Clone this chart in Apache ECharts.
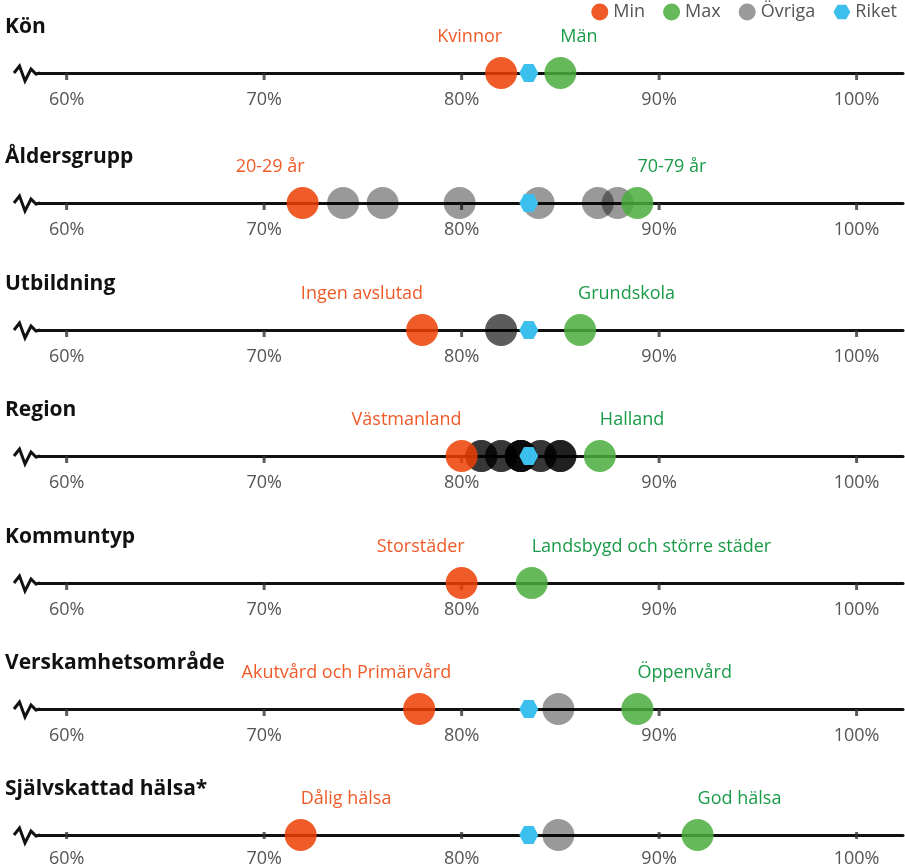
<!DOCTYPE html>
<html>
<head>
<meta charset="utf-8">
<script src="https://cdn.jsdelivr.net/npm/echarts@6/dist/echarts.min.js"></script>
<style>
html,body{margin:0;padding:0;background:#fff;}
#chart{width:905px;height:868px;}
</style>
</head>
<body>
<div id="chart"></div>
<script>
// ---- data ----
const categories = ['Kön','Åldersgrupp','Utbildning','Region','Kommuntyp','Verskamhetsområde','Självskattad hälsa*'];
const minNames = ['Kvinnor','20-29 år','Ingen avslutad','Västmanland','Storstäder','Akutvård och Primärvård','Dålig hälsa'];
const minValues = [82.0, 71.95, 78.0, 80.0, 80.0, 77.85, 71.85];
const maxNames = ['Män','70-79 år','Grundskola','Halland','Landsbygd och större städer','Öppenvård','God hälsa'];
const maxValues = [85.0, 88.9, 86.0, 87.0, 83.55, 88.9, 91.95];
const otherValues = [
  [],
  [74.0, 76.0, 79.9, 83.9, 86.9, 87.9],
  [82.0, 82.0],
  [81,81,81,82,82,82,83,83,83,83,83,83,84,84,84,85,85,85,85],
  [],
  [84.9],
  [84.9]
];
const riketValues = [83.4, 83.4, 83.4, 83.4, null, 83.4, 83.4];
const tickValues = [60, 70, 80, 90, 100];
const legendNames = ['Min','Max','Övriga','Riket'];

// ---- layout / style ----
const lineY = [73, 203, 330, 456, 583, 709, 835];
const FONT = 'Open Sans';
const ORANGE = '#ed3f04', ORANGE_TXT = '#f05a28';
const GREEN = '#4bad3d', GREEN_TXT = '#1a9b48';
const BLUE = '#3bbfec';
const HEX = 'path://M0,50 L25,6.7 L75,6.7 L100,50 L75,93.3 L25,93.3 Z';
const minLabelAlign = ['right','right','right','right','right','right','left'];
const minLabelDx = [1, 2, 1, 0, 3, 32, 0];
const maxLabelDx = [0, 0, -2, 0, 0, 0, 0];

const AX_MIN = 58.55, AX_MAX = 102.35, AX_LEFT = 38, AX_W = 865;
const PX_PER = AX_W / (AX_MAX - AX_MIN);
const tMin = tickValues[0], tMax = tickValues[tickValues.length - 1];

const grids = [], xAxes = [], yAxes = [], series = [], graphics = [];
categories.forEach((cat, i) => {
  const y = lineY[i];
  grids.push({left: AX_LEFT, width: AX_W, top: y - 20, height: 20});
  grids.push({left: AX_LEFT + (tMin - AX_MIN) * PX_PER, width: (tMax - tMin) * PX_PER,
              top: y - 20, height: 20});
  xAxes.push({
    type: 'value', gridIndex: 2 * i, min: AX_MIN, max: AX_MAX, position: 'bottom',
    axisLine: {show: true, onZero: false, lineStyle: {color: '#111', width: 3}},
    axisTick: {show: false}, axisLabel: {show: false}, splitLine: {show: false}
  });
  xAxes.push({
    type: 'value', gridIndex: 2 * i + 1, min: tMin, max: tMax, interval: 10,
    position: 'bottom',
    axisLine: {show: false, onZero: false},
    axisTick: {show: false},
    axisLabel: {show: true, formatter: '{value}%', color: '#555',
      fontSize: 18, fontFamily: FONT, margin: 18},
    splitLine: {show: false}
  });
  yAxes.push({type: 'value', gridIndex: 2 * i, min: 0, max: 1, show: false});
  yAxes.push({type: 'value', gridIndex: 2 * i + 1, min: 0, max: 1, show: false});

  // tick marks at 60..100
  series.push({
    name: 'ticks', type: 'scatter', xAxisIndex: 2 * i + 1, yAxisIndex: 2 * i + 1, z: 1, silent: true,
    symbol: 'rect', symbolSize: [3, 7], symbolOffset: [0, 3.5],
    itemStyle: {color: '#333'},
    data: tickValues.map(v => [v, 0])
  });

  const xi = 2 * i, yi = 2 * i;
  series.push({
    name: 'Övriga', type: 'scatter', xAxisIndex: xi, yAxisIndex: yi, z: 2, silent: true,
    symbol: 'circle', symbolSize: 32,
    itemStyle: {color: '#000', opacity: 0.4},
    data: otherValues[i].map(v => [v, 0])
  });
  series.push({
    name: 'Min', type: 'scatter', xAxisIndex: xi, yAxisIndex: yi, z: 3, silent: true,
    symbol: 'circle', symbolSize: 32,
    itemStyle: {color: ORANGE, opacity: 0.85},
    label: {show: true, formatter: '{b}', position: 'inside', align: minLabelAlign[i],
      verticalAlign: 'middle', offset: [minLabelDx[i], -36], color: ORANGE_TXT,
      fontSize: 18, fontFamily: FONT, opacity: 1},
    data: [{name: minNames[i], value: [minValues[i], 0]}]
  });
  series.push({
    name: 'Max', type: 'scatter', xAxisIndex: xi, yAxisIndex: yi, z: 3, silent: true,
    symbol: 'circle', symbolSize: 32,
    itemStyle: {color: GREEN, opacity: 0.85},
    label: {show: true, formatter: '{b}', position: 'inside', align: 'left',
      verticalAlign: 'middle', offset: [maxLabelDx[i], -36], color: GREEN_TXT,
      fontSize: 18, fontFamily: FONT, opacity: 1},
    data: [{name: maxNames[i], value: [maxValues[i], 0]}]
  });
  series.push({
    name: 'Riket', type: 'scatter', xAxisIndex: xi, yAxisIndex: yi, z: 4, silent: true,
    symbol: HEX, symbolSize: [19, 18],
    itemStyle: {color: BLUE, opacity: 1},
    data: riketValues[i] == null ? [] : [[riketValues[i], 0]]
  });

  graphics.push({
    type: 'text', left: 5, top: y - 56,
    style: {text: cat, font: 'bold 21px "' + FONT + '"', fill: '#111'}
  });
  const zz = [[14,0],[19.5,-7],[25,8],[31,-4],[36,1],[40,0]];
  graphics.push({
    type: 'polyline',
    shape: {points: zz.map(p => [p[0], y + p[1]])},
    style: {stroke: '#111', lineWidth: 3, fill: null, lineJoin: 'miter'}
  });
});

const chart = echarts.init(document.getElementById('chart'));
chart.setOption({
  backgroundColor: '#fff',
  animation: false,
  legend: {
    right: 3, top: -2, itemWidth: 17, itemHeight: 17, itemGap: 18,
    textStyle: {color: '#555', fontSize: 18, fontFamily: FONT},
    selectedMode: false,
    data: [
      {name: legendNames[0], icon: 'circle', itemStyle: {color: ORANGE_TXT, opacity: 1}},
      {name: legendNames[1], icon: 'circle', itemStyle: {color: '#66b95a', opacity: 1}},
      {name: legendNames[2], icon: 'circle', itemStyle: {color: '#9a9a9a', opacity: 1}},
      {name: legendNames[3], icon: HEX, itemStyle: {color: BLUE, opacity: 1}}
    ]
  },
  grid: grids, xAxis: xAxes, yAxis: yAxes, series: series,
  graphic: graphics
});
</script>
</body>
</html>
